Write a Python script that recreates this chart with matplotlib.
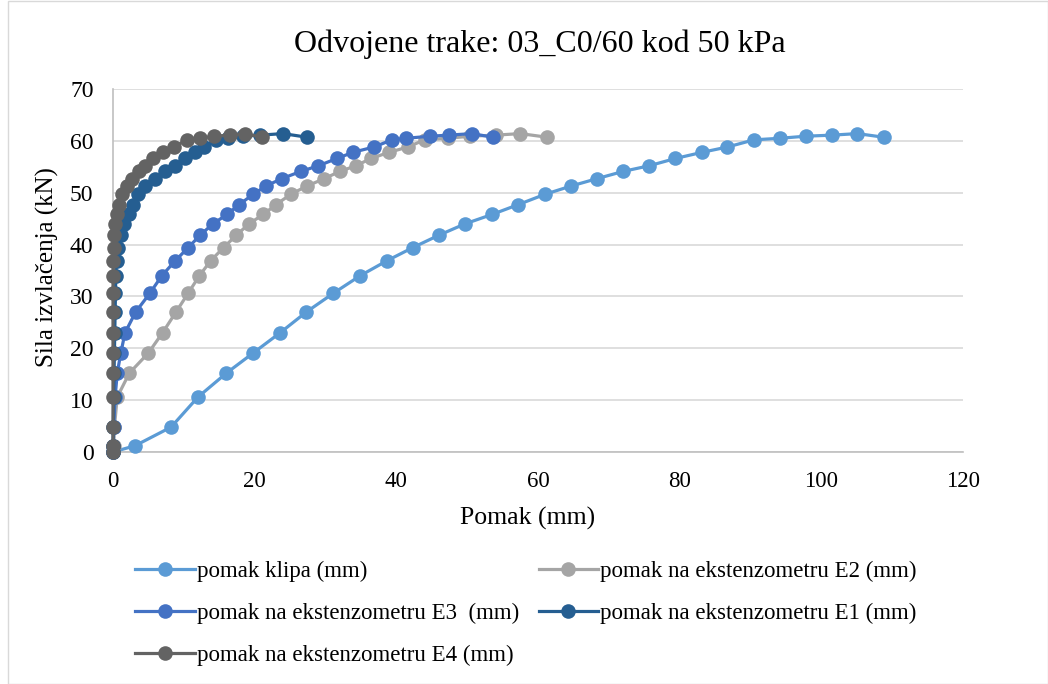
import matplotlib
matplotlib.use("Agg")
import matplotlib.pyplot as plt
from matplotlib.patches import Rectangle

plt.rcParams['font.family'] = ['Liberation Serif', 'DejaVu Serif']

# Shared force levels (kN)
sila = [0, 1.2, 4.8, 10.6, 15.2, 19.1, 23.0, 27.0, 30.6, 34.0, 36.9, 39.4, 41.8, 44.0,
        45.8, 47.7, 49.7, 51.3, 52.7, 54.1, 55.2, 56.6, 57.8, 58.8, 60.2, 60.5, 60.9,
        61.1, 61.4, 60.7]

pomak_klipa = [0, 3.1, 8.2, 12.0, 16.0, 19.8, 23.6, 27.3, 31.1, 34.9, 38.7, 42.3, 46.0,
               49.7, 53.5, 57.2, 61.0, 64.7, 68.3, 72.0, 75.7, 79.4, 83.2, 86.7, 90.5,
               94.2, 97.8, 101.5, 105.1, 108.8]
pomak_E2 = [0, 0.1, 0.2, 0.6, 2.3, 5.0, 7.0, 8.9, 10.6, 12.2, 13.8, 15.6, 17.4, 19.2,
            21.2, 23.0, 25.1, 27.4, 29.8, 32.0, 34.3, 36.4, 39.0, 41.6, 44.0, 47.3,
            50.4, 54.0, 57.5, 61.3]
pomak_E3 = [0, 0.05, 0.1, 0.3, 0.6, 1.1, 1.7, 3.2, 5.2, 6.9, 8.8, 10.6, 12.3, 14.1,
            16.1, 17.8, 19.8, 21.6, 23.8, 26.5, 29.0, 31.6, 33.9, 36.8, 39.4, 41.4,
            44.8, 47.4, 50.7, 53.6]
pomak_E1 = [0, 0, 0.05, 0.1, 0.15, 0.2, 0.25, 0.3, 0.35, 0.4, 0.5, 0.7, 1.1, 1.6,
            2.3, 2.8, 3.5, 4.5, 5.9, 7.3, 8.8, 10.2, 11.6, 12.8, 14.6, 16.3, 18.3,
            20.8, 24.0, 27.4]
pomak_E4 = [0, 0, 0, 0, 0, 0, 0, 0, 0, 0, 0.05, 0.1, 0.2, 0.35, 0.6, 0.9, 1.3, 2.0,
            2.7, 3.6, 4.5, 5.7, 7.0, 8.6, 10.4, 12.3, 14.2, 16.5, 18.6, 21.0]

series = [
    ("pomak klipa (mm)", pomak_klipa, "#5B9BD5"),
    ("pomak na ekstenzometru E2 (mm)", pomak_E2, "#A5A5A5"),
    ("pomak na ekstenzometru E3  (mm)", pomak_E3, "#4472C4"),
    ("pomak na ekstenzometru E1 (mm)", pomak_E1, "#255E91"),
    ("pomak na ekstenzometru E4 (mm)", pomak_E4, "#636363"),
]

x_ticks = [0, 20, 40, 60, 80, 100, 120]
y_ticks = [0, 10, 20, 30, 40, 50, 60, 70]

W, H = 1048, 684
fig = plt.figure(figsize=(W/100, H/100), dpi=100)
ax = fig.add_axes([113/W, 1-452/H, 850/W, 363/H])

handles = {}
for label, xs, col in series:
    h, = ax.plot(xs, sila, color=col, lw=2.3, marker='o', markersize=10.5,
                 markeredgewidth=0, label=label, clip_on=False, zorder=3)
    handles[label] = h

ax.set_xlim(0, 120)
ax.set_ylim(0, 70)
ax.set_xticks(x_ticks)
ax.set_yticks(y_ticks)
ax.tick_params(length=0, colors='black')
ax.tick_params(axis='y', labelsize=17, pad=14)
ax.tick_params(axis='x', labelsize=16.5, pad=14)
ax.yaxis.grid(True, color='#D9D9D9', lw=1.2)
ax.set_axisbelow(True)
for s in ['top', 'right']:
    ax.spines[s].set_visible(False)
for s in ['left', 'bottom']:
    ax.spines[s].set_color('#BFBFBF')
    ax.spines[s].set_linewidth(1.2)
    ax.spines[s].set_zorder(1)

fig.text(528/W, 1-518/H, "Pomak (mm)", fontsize=18.5, ha='center', va='center')
fig.text(47/W, 1-267/H, "Sila izvlačenja (kN)", fontsize=18, ha='center',
         va='center', rotation=90)
fig.text(540/W, 1-44/H, "Odvojene trake: 03_C0/60 kod 50 kPa",
         fontsize=23, ha='center', va='center')

order = [series[0][0], series[2][0], series[4][0], series[1][0], series[3][0]]
leg = fig.legend([handles[k] for k in order], order, ncol=2, loc='upper left',
                 bbox_to_anchor=(135/W, 1-561/H), frameon=False, fontsize=16.5,
                 handlelength=2.6, handletextpad=0.1, columnspacing=0.85,
                 labelspacing=0.9, borderaxespad=0, borderpad=0)

fig.patches.append(Rectangle((8/W, 0.5/H), 1-8.5/W, 1-1/H,
                             transform=fig.transFigure, fill=False,
                             edgecolor='#D9D9D9', lw=1))

fig.savefig("out.png", dpi=100)
